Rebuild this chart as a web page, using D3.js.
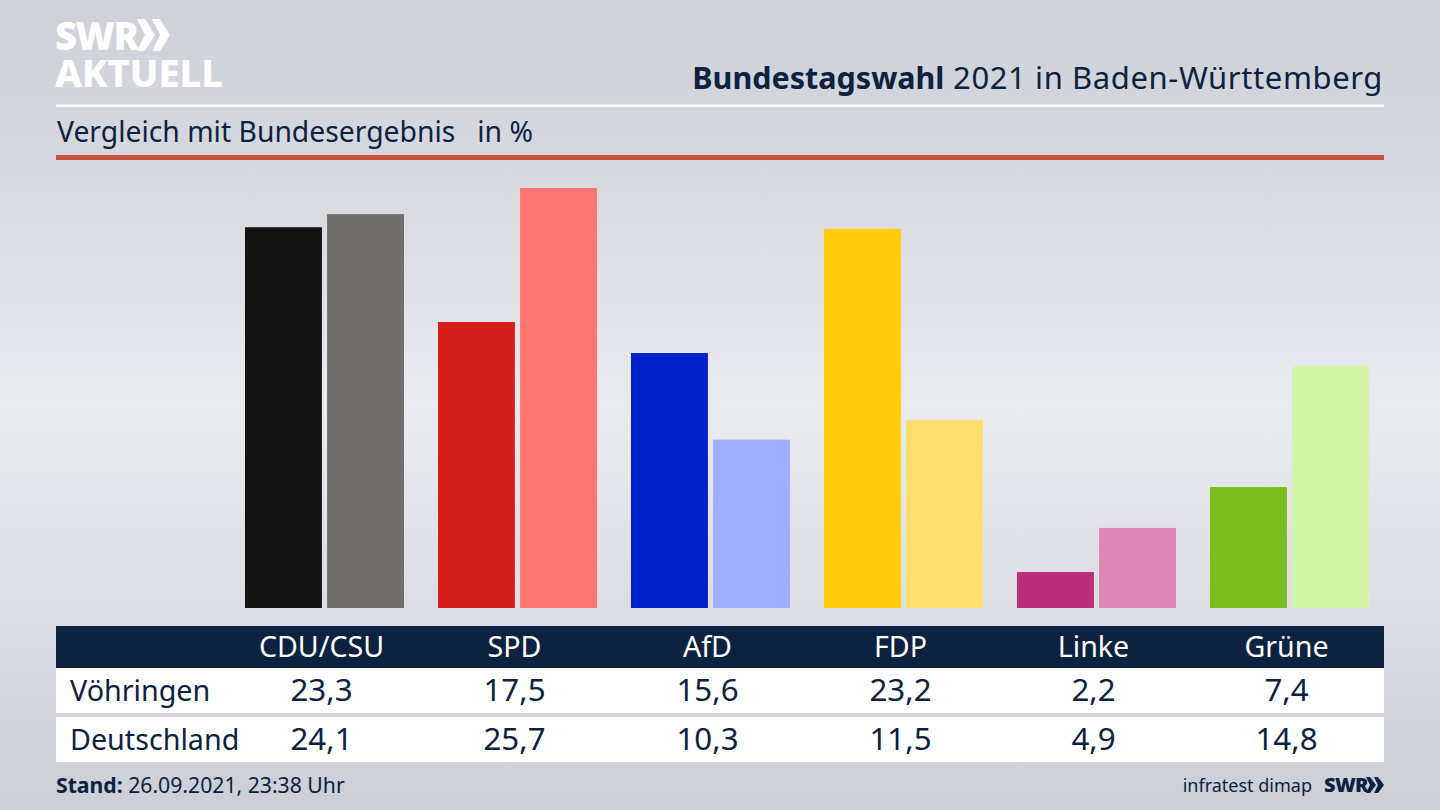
<!DOCTYPE html>
<html>
<head>
<meta charset="utf-8">
<title>Bundestagswahl 2021 in Baden-Württemberg</title>
<script src="https://cdn.jsdelivr.net/npm/d3@7"></script>
<style>
html, body { margin: 0; padding: 0; background: #d5d7dd; }
svg { display: block; }
text { font-family: "Noto Sans", sans-serif; fill: #0c2240; }
</style>
</head>
<body>
<div class="chart"></div>
<script>
// ======================================
// data
// ======================================
var parties = ['CDU/CSU', 'SPD', 'AfD', 'FDP', 'Linke', 'Grüne'];
var regions = ['Vöhringen', 'Deutschland'];
var voehringen = [23.3, 17.5, 15.6, 23.2, 2.2, 7.4];
var deutschland = [24.1, 25.7, 10.3, 11.5, 4.9, 14.8];
var strongColors = ['#131313', '#d61f1d', '#0021c8', '#ffcd0a', '#bc2f78', '#79bd1c'];
var lightColors = ['#6f6e6c', '#ff7570', '#9fadff', '#ffde6e', '#de86b5', '#d3f5a8'];

var width = 1440, height = 810;
var navy = '#0c2240';
var deFormat = d3.formatLocale({ decimal: ',', thousands: '.', grouping: [3], currency: ['', ' €'] }).format('.1f');

var svg = d3.select('.chart').append('svg')
   .attr('width', width)
   .attr('height', height);

// ======================================
// background, light band across the middle
// ======================================
var grad = svg.append('defs').append('linearGradient')
   .attr('id', 'bg')
   .attr('x1', 0).attr('y1', 0).attr('x2', 0).attr('y2', 1);
grad.selectAll('stop')
   .data([[0, '#cdd0d7'], [0.25, '#d9dbe1'], [0.5, '#e9eaee'], [0.75, '#dcdee3'], [1, '#cbced5']])
   .enter().append('stop')
   .attr('offset', function(d){ return d[0]; })
   .attr('stop-color', function(d){ return d[1]; });
svg.append('rect').attr('width', width).attr('height', height).attr('fill', 'url(#bg)');

// ======================================
// scales
// ======================================
var x0 = d3.scaleBand()
   .domain(parties)
   .range([228, 1386])
   .paddingInner(34 / 193)
   .paddingOuter(17 / 193);
var x1 = d3.scaleBand()
   .domain(regions)
   .range([0, x0.bandwidth()])
   .paddingInner(5 / 79.5);
var y = d3.scaleLinear()
   .domain([0, 25.7])
   .range([608, 188]);

// labels sit a little left of the centre of each bar pair
function labelX(p){ return x0(p) + x0.bandwidth() / 2 - 3; }

// ======================================
// bars
// ======================================
var groups = svg.selectAll('g.party')
   .data(parties)
   .enter().append('g')
   .attr('class', 'party')
   .attr('transform', function(p){ return 'translate(' + x0(p) + ',0)'; });

groups.append('rect')
   .attr('x', x1(regions[0]))
   .attr('y', function(p, i){ return y(voehringen[i]); })
   .attr('width', x1.bandwidth())
   .attr('height', function(p, i){ return y(0) - y(voehringen[i]); })
   .attr('fill', function(p, i){ return strongColors[i]; });

groups.append('rect')
   .attr('x', x1(regions[1]))
   .attr('y', function(p, i){ return y(deutschland[i]); })
   .attr('width', x1.bandwidth())
   .attr('height', function(p, i){ return y(0) - y(deutschland[i]); })
   .attr('fill', function(p, i){ return lightColors[i]; });

// ======================================
// header
// ======================================
svg.append('rect').attr('x', 56).attr('y', 104.5).attr('width', 1328).attr('height', 2.5).attr('fill', '#fff');
svg.append('rect').attr('x', 56).attr('y', 155).attr('width', 1328).attr('height', 5).attr('fill', '#c94f3f');

var title = svg.append('text')
   .attr('x', 1383).attr('y', 89)
   .attr('text-anchor', 'end');
title.append('tspan').attr('font-weight', 700).attr('font-size', 30.5).text('Bundestagswahl');
title.append('tspan').attr('font-size', 31).attr('letter-spacing', 0.6).text(' 2021 in Baden-Württemberg');

svg.append('text')
   .attr('x', 57).attr('y', 142)
   .attr('font-size', 28.3)
   .attr('xml:space', 'preserve')
   .text('Vergleich mit Bundesergebnis   in %');

// logo, top left
svg.append('text')
   .attr('x', 55).attr('y', 50)
   .attr('font-size', 38).attr('font-weight', 900)
   .attr('letter-spacing', -1.5)
   .style('fill', '#fff')
   .text('SWR');
svg.append('text')
   .attr('x', 55).attr('y', 87)
   .attr('font-size', 38).attr('font-weight', 800)
   .style('fill', '#fff')
   .text('AKTUELL');
var chevron = d3.line();
[137, 152].forEach(function(cx){
   svg.append('path')
      .attr('d', chevron([[cx, 19], [cx + 8, 19], [cx + 18, 35], [cx + 8, 51], [cx, 51], [cx + 8, 35]]) + 'Z')
      .attr('fill', '#fff');
});

// ======================================
// table
// ======================================
svg.append('rect').attr('x', 56).attr('y', 626).attr('width', 1328).attr('height', 42).attr('fill', navy);
svg.append('rect').attr('x', 56).attr('y', 668).attr('width', 1328).attr('height', 45).attr('fill', '#fff');
svg.append('rect').attr('x', 56).attr('y', 717).attr('width', 1328).attr('height', 45).attr('fill', '#fff');

svg.selectAll('text.head')
   .data(parties)
   .enter().append('text')
   .attr('class', 'head')
   .attr('x', labelX)
   .attr('y', 657)
   .attr('text-anchor', 'middle')
   .attr('font-size', 28.6)
   .style('fill', '#fff')
   .text(function(p){ return p; });

var rows = [voehringen, deutschland];
var rowY = [701, 750];
rows.forEach(function(row, r){
   svg.append('text')
      .attr('x', 70).attr('y', rowY[r])
      .attr('font-size', 28.7)
      .text(regions[r]);
   svg.selectAll('text.val' + r)
      .data(row)
      .enter().append('text')
      .attr('class', 'val' + r)
      .attr('x', function(d, i){ return labelX(parties[i]); })
      .attr('y', rowY[r])
      .attr('text-anchor', 'middle')
      .attr('font-size', 31.3)
      .text(function(d){ return deFormat(d); });
});

// ======================================
// footer
// ======================================
var stand = svg.append('text')
   .attr('x', 56).attr('y', 793)
   .attr('font-size', 21.2);
stand.append('tspan').attr('font-weight', 700).text('Stand:');
stand.append('tspan').text(' 26.09.2021, 23:38 Uhr');

svg.append('text')
   .attr('x', 1312).attr('y', 792)
   .attr('text-anchor', 'end')
   .attr('font-size', 18)
   .text('infratest dimap');
svg.append('text')
   .attr('x', 1324).attr('y', 792)
   .attr('font-size', 20).attr('font-weight', 900)
   .attr('letter-spacing', -0.6)
   .text('SWR');
[1366, 1374].forEach(function(cx){
   svg.append('path')
      .attr('d', chevron([[cx, 777], [cx + 4, 777], [cx + 10, 785], [cx + 4, 793], [cx, 793], [cx + 4, 785]]) + 'Z')
      .attr('fill', navy);
});
</script>
</body>
</html>
